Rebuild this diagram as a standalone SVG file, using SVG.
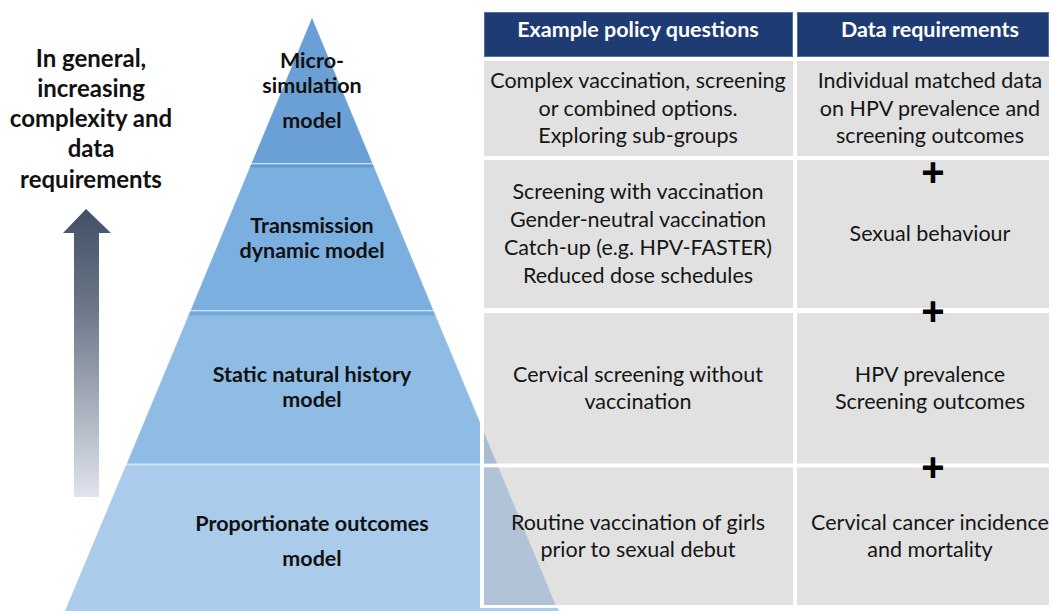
<svg xmlns="http://www.w3.org/2000/svg" width="1052" height="611" viewBox="0 0 1052 611">
<defs>
<linearGradient id="arrowGrad" x1="0" y1="209" x2="0" y2="497" gradientUnits="userSpaceOnUse">
<stop offset="0" stop-color="#415067"/>
<stop offset="0.35" stop-color="#6d7788"/>
<stop offset="1" stop-color="#dfe4ed"/>
</linearGradient>
<style>
.lt{font-family:Lato,"Liberation Sans",sans-serif;font-weight:bold;font-size:24px;fill:#111;text-anchor:middle}
.pl{font-family:Lato,"Liberation Sans",sans-serif;font-weight:bold;font-size:21.5px;fill:#111;text-anchor:middle}
.hd{font-family:Lato,"Liberation Sans",sans-serif;font-weight:bold;font-size:21.5px;fill:#fff;text-anchor:middle}
.tx{font-family:Lato,"Liberation Sans",sans-serif;font-size:21.5px;fill:#151515;text-anchor:middle}
.plus{font-family:"Liberation Sans",Arial,sans-serif;font-weight:bold;font-size:40px;fill:#000;text-anchor:middle}
.cell{fill:#e1e1e1}
.head{fill:#1f3b73;stroke:#506e9f;stroke-width:1}
</style>
</defs>
<rect width="1052" height="611" fill="#ffffff"/>

<g id="arrow">
<polygon points="86,209 111,233 99,233 99,497 74,497 74,233 63,233" fill="url(#arrowGrad)"/>
</g>
<g id="arrow-label">
<text class="lt" x="91" y="67">In general,</text>
<text class="lt" x="91" y="97">increasing</text>
<text class="lt" x="91" y="127">complexity and</text>
<text class="lt" x="91" y="157">data</text>
<text class="lt" x="91" y="188">requirements</text>
</g>

<g id="pyramid">
<polygon points="312,18 65.1,611 558.9,611" fill="#d3e3f4"/>
<g id="tier-micro">
<polygon points="312,18 251.8,163 372.2,163" fill="#6ba0d6"/>
<text class="pl" x="312" y="68">Micro-</text>
<text class="pl" x="312" y="93">simulation</text>
<text class="pl" x="312" y="128">model</text>
</g>
<g id="tier-transmission">
<polygon points="251.2,164.5 372.8,164.5 433,310 191,310" fill="#7bafdf"/>
<polygon points="251.2,164.5 372.8,164.5 374,167.5 250,167.5" fill="#6499d0"/>
<text class="pl" x="312" y="233">Transmission</text>
<text class="pl" x="312" y="258">dynamic model</text>
</g>
<g id="tier-static">
<polygon points="190.4,311.5 433.6,311.5 496.9,463.5 127.1,463.5" fill="#8ebce5"/>
<polygon points="190.4,311.5 433.6,311.5 435.3,315.5 188.7,315.5" fill="#74a9db"/>
<text class="pl" x="312" y="382">Static natural history</text>
<text class="pl" x="312" y="407">model</text>
</g>
<g id="tier-proportionate">
<polygon points="126,465.5 498,465.5 558.9,611 65.1,611" fill="#aacbea"/>
<text class="pl" x="312" y="531">Proportionate outcomes</text>
<text class="pl" x="312" y="566">model</text>
</g>
</g>

<g id="table">
<rect x="480" y="8" width="572" height="600" fill="#ffffff"/>
<g id="header-policy">
<rect class="head" x="484.5" y="12.5" width="308" height="44"/>
<text class="hd" x="638" y="37">Example policy questions</text>
</g>
<g id="header-data">
<rect class="head" x="797.5" y="12.5" width="251" height="44"/>
<text class="hd" x="930" y="37">Data requirements</text>
</g>

<g id="row-micro">
<rect class="cell" x="484" y="61" width="309" height="95"/>
<rect class="cell" x="797" y="61" width="252" height="95"/>
<text class="tx" x="638" y="88">Complex vaccination, screening</text>
<text class="tx" x="638" y="116">or combined options.</text>
<text class="tx" x="638" y="143">Exploring sub-groups</text>
<text class="tx" x="930" y="88">Individual matched data</text>
<text class="tx" x="930" y="116">on HPV prevalence and</text>
<text class="tx" x="930" y="143">screening outcomes</text>
</g>

<g id="row-transmission">
<rect class="cell" x="484" y="160" width="309" height="148"/>
<rect class="cell" x="797" y="160" width="252" height="148"/>
<text class="tx" x="638" y="199">Screening with vaccination</text>
<text class="tx" x="638" y="227">Gender-neutral vaccination</text>
<text class="tx" x="638" y="255">Catch-up (e.g. HPV-FASTER)</text>
<text class="tx" x="638" y="283">Reduced dose schedules</text>
<text class="tx" x="930" y="241">Sexual behaviour</text>
</g>

<g id="row-static">
<rect class="cell" x="484" y="313" width="309" height="150.5"/>
<rect class="cell" x="797" y="313" width="252" height="150.5"/>
<polygon points="484,432.5 496.9,463.5 484,463.5" fill="#a9bdd1"/>
<text class="tx" x="638" y="382">Cervical screening without</text>
<text class="tx" x="638" y="409">vaccination</text>
<text class="tx" x="930" y="382">HPV prevalence</text>
<text class="tx" x="930" y="409">Screening outcomes</text>
</g>

<g id="row-proportionate">
<rect class="cell" x="484" y="467.5" width="309" height="137.5"/>
<rect class="cell" x="797" y="467.5" width="252" height="137.5"/>
<polygon points="484,467.5 498.5,467.5 555.6,605 484,605" fill="#b1c3d6"/>
<text class="tx" x="638" y="530">Routine vaccination of girls</text>
<text class="tx" x="638" y="557">prior to sexual debut</text>
<text class="tx" x="930" y="530">Cervical cancer incidence</text>
<text class="tx" x="930" y="557">and mortality</text>
</g>

<g id="plus-signs">
<text class="plus" x="933" y="186">+</text>
<text class="plus" x="933" y="325">+</text>
<text class="plus" x="933" y="481">+</text>
</g>
</g>
</svg>
